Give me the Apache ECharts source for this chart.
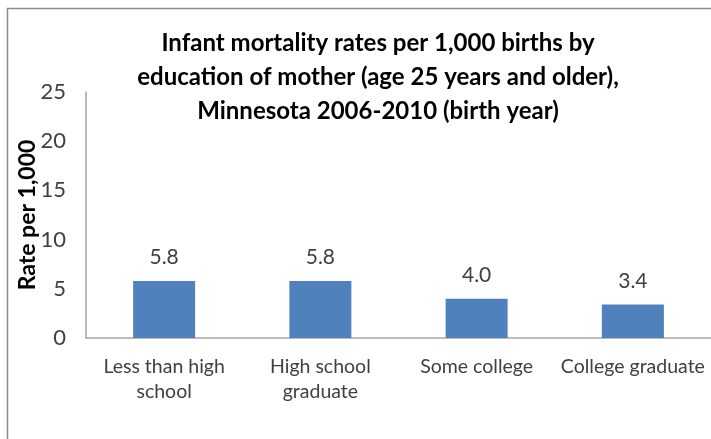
<!DOCTYPE html>
<html>
<head>
<meta charset="utf-8">
<script src="https://cdn.jsdelivr.net/npm/echarts@6/dist/echarts.min.js"></script>
<style>
  html, body { margin: 0; padding: 0; background: #fff; }
  #chart { width: 711px; height: 439px; }
</style>
</head>
<body>
<div id="chart"></div>
<script>
const categories = ['Less than high\nschool', 'High school\ngraduate', 'Some college', 'College graduate']
const rates = [5.8, 5.8, 4.0, 3.4]
const yTicks = [0, 5, 10, 15, 20, 25]

const font = 'Lato, "Open Sans", sans-serif'
const chart = echarts.init(document.getElementById('chart'))

chart.setOption({
  animation: false,
  title: {
    text: 'Infant mortality rates per 1,000 births by\neducation of mother (age 25 years and older),\nMinnesota 2006-2010 (birth year)',
    left: 373,
    top: 21,
    textAlign: 'center',
    textStyle: { fontFamily: font, fontSize: 24, fontWeight: 'bold', color: '#000', lineHeight: 34 }
  },
  graphic: [
    {
      type: 'rect',
      shape: { x: 7.5, y: 8.5, width: 720, height: 450 },
      style: { fill: 'none', stroke: '#8c8c8c', lineWidth: 1.5 },
      z: -1
    }
  ],
  grid: { left: 86, right: -1, top: 92, bottom: 101 },
  xAxis: {
    type: 'category',
    data: categories,
    axisLine: { lineStyle: { color: '#a6a6a6', width: 1.5 } },
    axisTick: { show: false },
    axisLabel: { interval: 0, fontFamily: font, fontSize: 19.5, color: '#404040', lineHeight: 25, margin: 16 }
  },
  yAxis: {
    type: 'value',
    min: yTicks[0],
    max: yTicks[yTicks.length - 1],
    interval: 5,
    name: 'Rate per 1,000',
    nameLocation: 'middle',
    nameGap: 47,
    nameMoveOverlap: false,
    nameTextStyle: { fontFamily: font, fontSize: 23, fontWeight: 'bold', color: '#000' },
    axisLine: { show: true, lineStyle: { color: '#a6a6a6', width: 1.5 } },
    axisTick: { show: false },
    splitLine: { show: false },
    axisLabel: { fontFamily: font, fontSize: 22, color: '#404040', margin: 20 }
  },
  series: [
    {
      type: 'bar',
      data: rates,
      barWidth: 62,
      itemStyle: { color: '#4f81bd' },
      label: {
        show: true,
        position: 'top',
        distance: 13,
        formatter: p => p.value.toFixed(1),
        fontFamily: font,
        fontSize: 21,
        color: '#404040'
      }
    }
  ]
})
</script>
</body>
</html>
